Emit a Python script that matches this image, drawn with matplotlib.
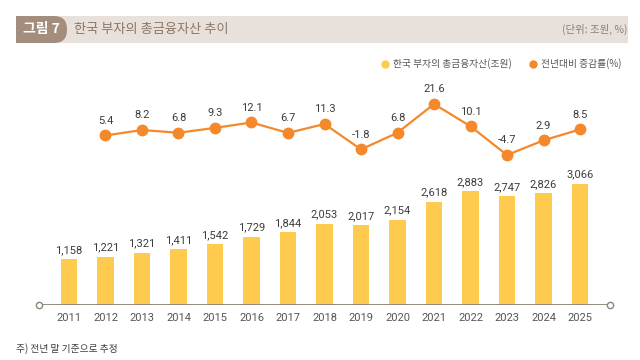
import matplotlib
matplotlib.use("Agg")
import matplotlib.pyplot as plt
from matplotlib.patches import FancyBboxPatch, Rectangle
from matplotlib.lines import Line2D
from matplotlib.transforms import IdentityTransform

# data
years = ["2011", "2012", "2013", "2014", "2015", "2016", "2017", "2018",
         "2019", "2020", "2021", "2022", "2023", "2024", "2025"]
assets = [1158, 1221, 1321, 1411, 1542, 1729, 1844, 2053,
          2017, 2154, 2618, 2883, 2747, 2826, 3066]
growth = [5.4, 8.2, 6.8, 9.3, 12.1, 6.7, 11.3, -1.8,
          6.8, 21.6, 10.1, -4.7, 2.9, 8.5]
growth_years = years[1:]

KR = ["Noto Sans CJK KR", "DejaVu Sans"]
NUM = ["Roboto", "DejaVu Sans"]
plt.rcParams["font.family"] = KR

BAR_C = "#FFCB4F"
LINE_C = "#F4892B"
TXT_C = "#3C3C3C"

W, H = 640, 360
fig = plt.figure(figsize=(6.4, 3.6), dpi=100)
px = IdentityTransform()

# header strip
fig.patches.append(Rectangle((16, H - 43), 612, 27, transform=px,
                             facecolor="#E8E1DB", edgecolor="none"))
fig.patches.append(FancyBboxPatch((16, H - 43), 51, 27, transform=px,
                                  boxstyle="round,pad=0,rounding_size=13",
                                  facecolor="#A38D7D", edgecolor="none"))
fig.patches.append(Rectangle((16, H - 43), 20, 27, transform=px,
                             facecolor="#A38D7D", edgecolor="none"))
fig.text(41 / W, 1 - 29.5 / H, "그림 7", color="white", fontsize=10,
         fontweight="bold", ha="center", va="center")
fig.text(74 / W, 1 - 29.5 / H, "한국 부자의 총금융자산 추이", color="#8C7766",
         fontsize=9.5, ha="left", va="center")
fig.text(627 / W, 1 - 29.5 / H, "(단위: 조원, %)", color="#8C7F76",
         fontsize=7.5, ha="right", va="center")

# plot area: baseline at y=305px, x from 39 to 610 px
ax = fig.add_axes([39 / W, (H - 305) / H, (610 - 39) / W, 245 / H])
ax2 = ax.twinx()
x = list(range(len(years)))

ax.bar(x, assets, width=0.46, color=BAR_C, zorder=2)
for xi, v in zip(x, assets):
    ax.annotate(f"{v:,}", (xi, v), xytext=(0, 3), textcoords="offset points",
                ha="center", va="bottom", fontsize=8, color=TXT_C, family=NUM)

gx = x[1:]
ax2.plot(gx, growth, color=LINE_C, lw=1.6, marker="o", ms=7.5, zorder=3)
for xi, v in zip(gx, growth):
    ax2.annotate(f"{v}", (xi, v), xytext=(0, 7), textcoords="offset points",
                 ha="center", va="bottom", fontsize=8, color=TXT_C, family=NUM)

ax.set_xlim(-0.82, 14.82)
ax.set_ylim(0, 6200)
ax2.set_ylim(-82, 44.3)

for a in (ax, ax2):
    a.set_yticks([])
    for s in a.spines.values():
        s.set_visible(False)
    a.patch.set_visible(False)

ax.set_xticks(x)
ax.set_xticklabels(years, family=NUM, fontsize=8, color="#555555")
ax.tick_params(axis="x", length=0, pad=6)

# baseline with end circles
ax.axhline(0, color="#8B8378", lw=1.3, zorder=4)
ax.plot([-0.82, 14.82], [0, 0], ls="none", marker="o", ms=4.5,
        mfc="white", mec="#8B8378", mew=1, clip_on=False, zorder=5)

# legend
handles = [Line2D([], [], ls="none", marker="o", ms=5, color=BAR_C),
           Line2D([], [], ls="none", marker="o", ms=5, color=LINE_C)]
leg = fig.legend(handles, ["한국 부자의 총금융자산(조원)", "전년대비 증감률(%)"],
                 loc="center right", bbox_to_anchor=(630 / W, 1 - 64 / H),
                 ncol=2, frameon=False, fontsize=7, handlelength=0.8,
                 handletextpad=0.4, columnspacing=1.8)
for t in leg.get_texts():
    t.set_color("#555555")

fig.text(16 / W, 1 - 349 / H, "주) 전년 말 기준으로 추정", fontsize=7,
         color=TXT_C, ha="left", va="center")

fig.savefig("out.png", dpi=100)
